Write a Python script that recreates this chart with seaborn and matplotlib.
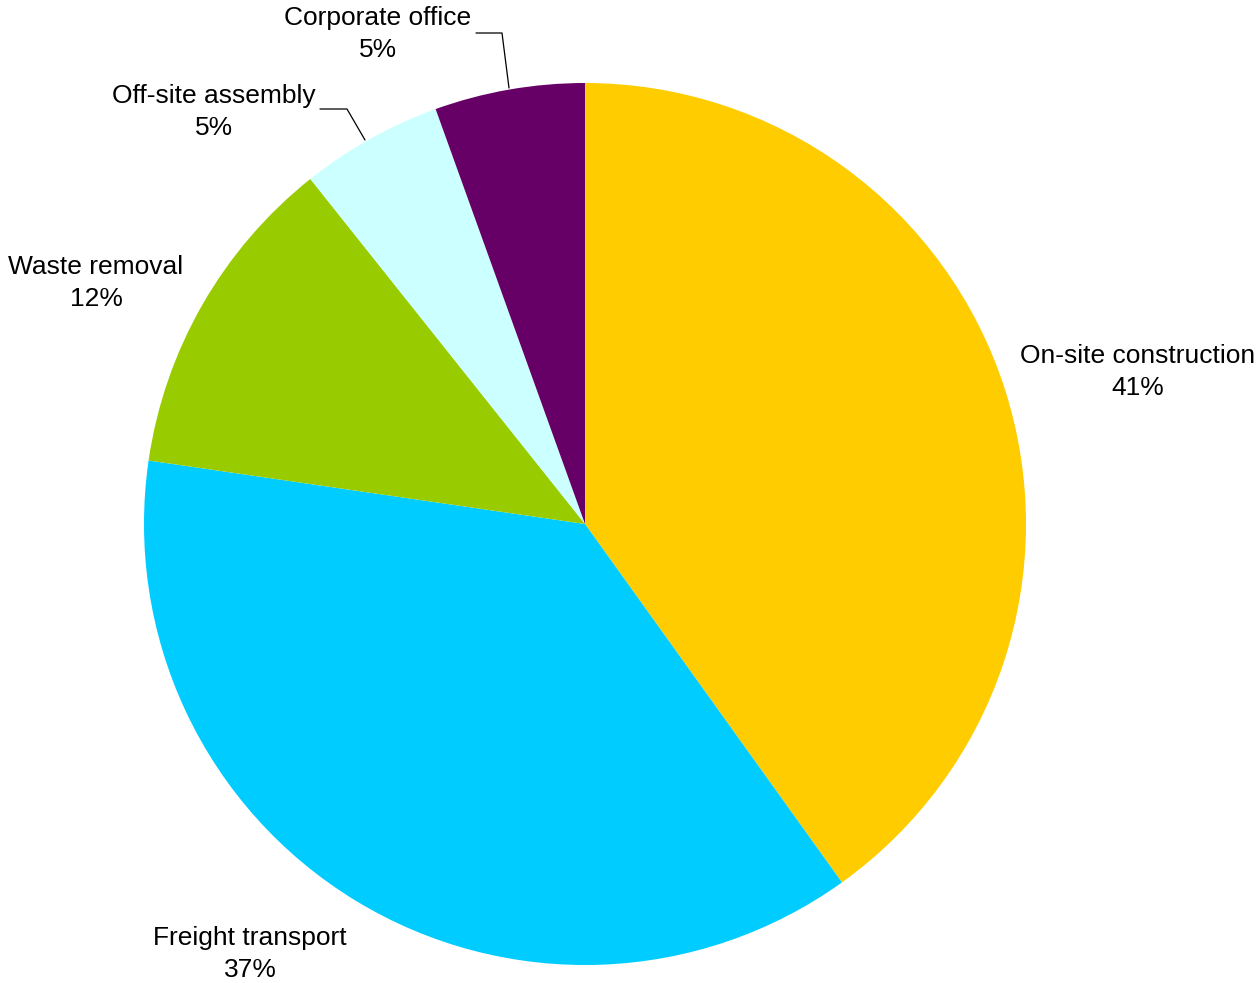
import matplotlib
matplotlib.use("Agg")
import matplotlib.pyplot as plt
import seaborn as sns

sns.set_theme(style="white")
plt.rcParams['font.family'] = ['Liberation Sans', 'DejaVu Sans']

categories = ["On-site construction", "Freight transport", "Waste removal",
              "Off-site assembly", "Corporate office"]
values = [40.1, 37.2, 12.0, 5.2, 5.5]
pct_labels = ["41%", "37%", "12%", "5%", "5%"]
colors = ["#FFCC00", "#00CCFF", "#99CC00", "#CCFFFF", "#660066"]

W, H = 1257, 983
fig = plt.figure(figsize=(W / 100, H / 100), dpi=100)
ax = fig.add_axes([0, 0, 1, 1])

cx, cy, r = 585, H - 524, 441
ax.pie(values, colors=colors, startangle=90, counterclock=False,
       center=(cx, cy), radius=r, wedgeprops=dict(linewidth=0))
ax.set_xlim(0, W)
ax.set_ylim(0, H)
ax.set_aspect('equal')
ax.axis('off')

label_pos = [(1138, 372), (250, 954), (96, 283), (214, 112), (378, 34)]
for name, pct, (x, y) in zip(categories, pct_labels, label_pos):
    ax.text(x, H - y, f"{name}\n{pct}", ha='center', va='center',
            fontsize=19, color='black', linespacing=1.38)

# leader lines
ax.plot([476, 502, 509], [H - 33, H - 33, H - 88], color='black', lw=0.9)
ax.plot([320, 347, 365], [H - 109, H - 109, H - 140], color='black', lw=0.9)

fig.savefig("out.png", dpi=100, facecolor='white')
